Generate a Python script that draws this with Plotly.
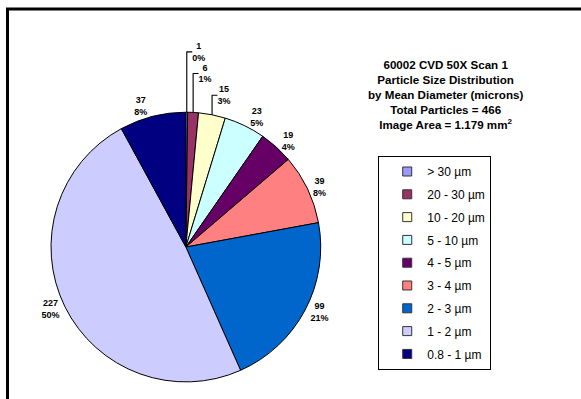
import plotly.graph_objects as go

categories = ["> 30 µm", "20 - 30 µm", "10 - 20 µm", "5 - 10 µm", "4 - 5 µm",
              "3 - 4 µm", "2 - 3 µm", "1 - 2 µm", "0.8 - 1 µm"]
counts = [1, 6, 15, 23, 19, 39, 99, 227, 37]
pct_labels = ["0%", "1%", "3%", "5%", "4%", "8%", "21%", "50%", "8%"]
colors = ["#9999FF", "#993366", "#FFFFCC", "#CCFFFF", "#660066",
          "#FF8080", "#0066CC", "#CCCCFF", "#000080"]

title_lines = ["60002 CVD 50X Scan 1", "Particle Size Distribution",
               "by Mean Diameter (microns)", "Total Particles = 466",
               "Image Area = 1.179 mm<sup>2</sup>"]

FONT = "Liberation Sans, Arial, sans-serif"

fig = go.Figure()
fig.add_trace(go.Pie(
    labels=categories, values=counts, text=pct_labels,
    sort=False, direction="clockwise", rotation=0,
    marker=dict(colors=colors, line=dict(color="black", width=1)),
    texttemplate="%{value}<br>%{text}",
    textposition="outside",
    textfont=dict(family=FONT, size=9, color="black", weight="bold"),
    domain=dict(x=[0.0878, 0.552], y=[0.0426, 0.719]),
    hoverinfo="label+value+percent",
    showlegend=False,
))

# legend entries (one group per category so entries get a small gap)
for i, (cat, col) in enumerate(zip(categories, colors)):
    fig.add_trace(go.Scatter(
        x=[None], y=[None], mode="markers", name=cat,
        legendgroup=f"g{i}", showlegend=True,
        marker=dict(symbol="square", size=9, color=col,
                    line=dict(color="#333333", width=1)),
    ))

fig.update_layout(
    width=581, height=399,
    margin=dict(l=0, r=0, t=0, b=0),
    paper_bgcolor="white", plot_bgcolor="white",
    font=dict(family=FONT, color="black"),
    xaxis=dict(visible=False), yaxis=dict(visible=False),
    showlegend=True,
    legend=dict(x=0.651, y=0.609, xanchor="left", yanchor="top",
                bordercolor="black", borderwidth=1, bgcolor="white",
                font=dict(family=FONT, size=12, color="black"),
                traceorder="grouped", tracegroupgap=3.8,
                entrywidth=140, itemwidth=30, indentation=8),
    annotations=[dict(text="<b>" + "<br>".join(title_lines) + "</b>",
                      x=0.766, y=1 - 94/399, xref="paper", yref="paper",
                      xanchor="center", yanchor="middle", showarrow=False,
                      align="center",
                      font=dict(family=FONT, size=11.6, color="black"))],
    shapes=[dict(type="rect", xref="paper", yref="paper",
                 x0=7.5/581, x1=1.2, y0=-0.2, y1=1 - 9/399,
                 line=dict(color="black", width=3), layer="above")],
)

fig.write_html("out.html", config={"displayModeBar": False})
